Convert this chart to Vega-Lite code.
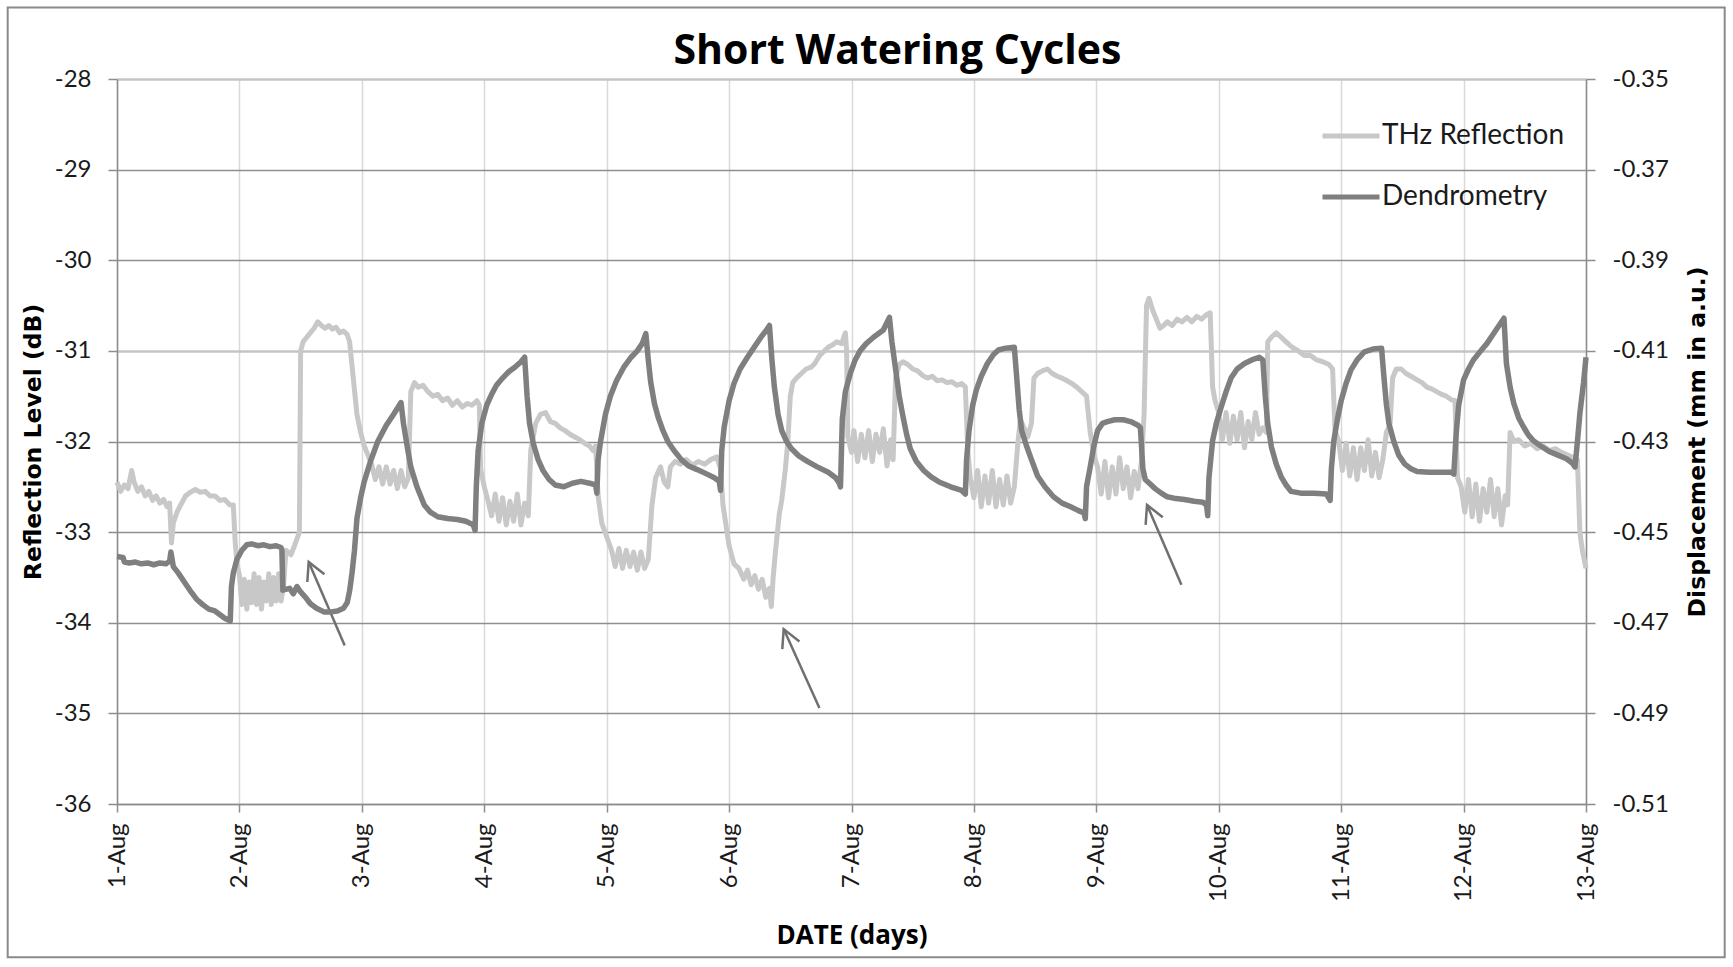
{
  "$schema": "https://vega.github.io/schema/vega-lite/v6.json",
  "width": 1469,
  "height": 725,
  "autosize": {"type": "none"},
  "padding": {"left": 117, "top": 79, "right": 147, "bottom": 163},
  "background": "white",
  "title": {
    "text": "Short Watering Cycles",
    "font": "Open Sans",
    "fontSize": 41,
    "fontWeight": "bold",
    "color": "#000000",
    "anchor": "middle",
    "frame": "group",
    "dx": 46,
    "offset": -67
  },
  "datasets": {
    "frame": [{"d": -0.893, "d2": 13.133, "v": -27.21, "v2": -37.69}],
    "arrows": [
      {"d": 1.86, "v": -34.25, "d2": 1.566, "v2": -33.33},
      {"d": 5.738, "v": -34.94, "d2": 5.446, "v2": -34.07},
      {"d": 8.695, "v": -33.58, "d2": 8.414, "v2": -32.7}
    ],
    "thz": [
      {"d": 0, "v": -32.45}, {"d": 0.03, "v": -32.55}, {"d": 0.06, "v": -32.48}, {"d": 0.09, "v": -32.52},
      {"d": 0.12, "v": -32.32}, {"d": 0.14, "v": -32.45}, {"d": 0.17, "v": -32.55}, {"d": 0.2, "v": -32.5},
      {"d": 0.23, "v": -32.6}, {"d": 0.26, "v": -32.55}, {"d": 0.29, "v": -32.65}, {"d": 0.32, "v": -32.6},
      {"d": 0.35, "v": -32.68}, {"d": 0.38, "v": -32.64}, {"d": 0.41, "v": -32.72}, {"d": 0.43, "v": -32.68},
      {"d": 0.445, "v": -33.12}, {"d": 0.46, "v": -32.9}, {"d": 0.49, "v": -32.78}, {"d": 0.52, "v": -32.7},
      {"d": 0.56, "v": -32.6}, {"d": 0.6, "v": -32.56}, {"d": 0.64, "v": -32.53}, {"d": 0.68, "v": -32.56},
      {"d": 0.72, "v": -32.55}, {"d": 0.76, "v": -32.6}, {"d": 0.8, "v": -32.6}, {"d": 0.84, "v": -32.65},
      {"d": 0.88, "v": -32.64}, {"d": 0.92, "v": -32.7}, {"d": 0.95, "v": -32.7}, {"d": 0.965, "v": -33.1},
      {"d": 0.98, "v": -33.35}, {"d": 1, "v": -33.48}, {"d": 1.02, "v": -33.8}, {"d": 1.04, "v": -33.52},
      {"d": 1.06, "v": -33.85}, {"d": 1.08, "v": -33.55}, {"d": 1.1, "v": -33.78}, {"d": 1.12, "v": -33.46},
      {"d": 1.14, "v": -33.8}, {"d": 1.16, "v": -33.5}, {"d": 1.18, "v": -33.85}, {"d": 1.2, "v": -33.55},
      {"d": 1.22, "v": -33.76}, {"d": 1.24, "v": -33.46}, {"d": 1.26, "v": -33.8}, {"d": 1.28, "v": -33.5},
      {"d": 1.3, "v": -33.76}, {"d": 1.32, "v": -33.46}, {"d": 1.34, "v": -33.76}, {"d": 1.36, "v": -33.6},
      {"d": 1.38, "v": -33.2}, {"d": 1.42, "v": -33.25}, {"d": 1.45, "v": -33.15}, {"d": 1.49, "v": -33.0},
      {"d": 1.5, "v": -31.0}, {"d": 1.52, "v": -30.9}, {"d": 1.55, "v": -30.85}, {"d": 1.58, "v": -30.8},
      {"d": 1.61, "v": -30.75}, {"d": 1.64, "v": -30.68}, {"d": 1.67, "v": -30.72}, {"d": 1.7, "v": -30.75},
      {"d": 1.73, "v": -30.72}, {"d": 1.76, "v": -30.76}, {"d": 1.79, "v": -30.74}, {"d": 1.82, "v": -30.8},
      {"d": 1.85, "v": -30.78}, {"d": 1.88, "v": -30.82}, {"d": 1.9, "v": -30.9}, {"d": 1.93, "v": -31.3},
      {"d": 1.96, "v": -31.7}, {"d": 1.99, "v": -31.9}, {"d": 2.02, "v": -32.05}, {"d": 2.05, "v": -32.15},
      {"d": 2.08, "v": -32.25}, {"d": 2.11, "v": -32.42}, {"d": 2.14, "v": -32.28}, {"d": 2.17, "v": -32.47},
      {"d": 2.2, "v": -32.28}, {"d": 2.23, "v": -32.47}, {"d": 2.26, "v": -32.32}, {"d": 2.29, "v": -32.52},
      {"d": 2.32, "v": -32.32}, {"d": 2.35, "v": -32.5}, {"d": 2.38, "v": -32.4}, {"d": 2.4, "v": -31.45},
      {"d": 2.43, "v": -31.35}, {"d": 2.46, "v": -31.4}, {"d": 2.5, "v": -31.38}, {"d": 2.54, "v": -31.45},
      {"d": 2.58, "v": -31.5}, {"d": 2.62, "v": -31.48}, {"d": 2.66, "v": -31.55}, {"d": 2.7, "v": -31.52},
      {"d": 2.74, "v": -31.6}, {"d": 2.78, "v": -31.55}, {"d": 2.82, "v": -31.62}, {"d": 2.86, "v": -31.58},
      {"d": 2.9, "v": -31.6}, {"d": 2.94, "v": -31.55}, {"d": 2.96, "v": -31.6}, {"d": 2.97, "v": -32.3},
      {"d": 3.0, "v": -32.5}, {"d": 3.03, "v": -32.65}, {"d": 3.06, "v": -32.82}, {"d": 3.09, "v": -32.58},
      {"d": 3.12, "v": -32.88}, {"d": 3.15, "v": -32.62}, {"d": 3.18, "v": -32.92}, {"d": 3.21, "v": -32.66},
      {"d": 3.24, "v": -32.88}, {"d": 3.27, "v": -32.58}, {"d": 3.3, "v": -32.92}, {"d": 3.33, "v": -32.68},
      {"d": 3.36, "v": -32.82}, {"d": 3.38, "v": -32.1}, {"d": 3.42, "v": -31.8}, {"d": 3.46, "v": -31.7},
      {"d": 3.5, "v": -31.68}, {"d": 3.54, "v": -31.78}, {"d": 3.58, "v": -31.8}, {"d": 3.62, "v": -31.85},
      {"d": 3.66, "v": -31.88}, {"d": 3.7, "v": -31.92}, {"d": 3.74, "v": -31.95}, {"d": 3.78, "v": -31.98},
      {"d": 3.82, "v": -32.02}, {"d": 3.86, "v": -32.05}, {"d": 3.89, "v": -32.1}, {"d": 3.91, "v": -32.05},
      {"d": 3.93, "v": -32.6}, {"d": 3.96, "v": -32.9}, {"d": 4.0, "v": -33.05}, {"d": 4.04, "v": -33.2},
      {"d": 4.07, "v": -33.38}, {"d": 4.1, "v": -33.18}, {"d": 4.13, "v": -33.4}, {"d": 4.16, "v": -33.2},
      {"d": 4.19, "v": -33.38}, {"d": 4.22, "v": -33.22}, {"d": 4.25, "v": -33.42}, {"d": 4.28, "v": -33.22},
      {"d": 4.31, "v": -33.4}, {"d": 4.34, "v": -33.3}, {"d": 4.37, "v": -32.7}, {"d": 4.4, "v": -32.4},
      {"d": 4.44, "v": -32.28}, {"d": 4.47, "v": -32.45}, {"d": 4.5, "v": -32.5}, {"d": 4.52, "v": -32.28},
      {"d": 4.56, "v": -32.22}, {"d": 4.6, "v": -32.25}, {"d": 4.65, "v": -32.2}, {"d": 4.7, "v": -32.26},
      {"d": 4.75, "v": -32.22}, {"d": 4.8, "v": -32.25}, {"d": 4.85, "v": -32.2}, {"d": 4.9, "v": -32.17},
      {"d": 4.93, "v": -32.3}, {"d": 4.95, "v": -32.7}, {"d": 5.0, "v": -33.15}, {"d": 5.04, "v": -33.35},
      {"d": 5.08, "v": -33.4}, {"d": 5.12, "v": -33.52}, {"d": 5.15, "v": -33.42}, {"d": 5.18, "v": -33.58},
      {"d": 5.21, "v": -33.48}, {"d": 5.24, "v": -33.63}, {"d": 5.27, "v": -33.52}, {"d": 5.3, "v": -33.72},
      {"d": 5.33, "v": -33.62}, {"d": 5.345, "v": -33.82}, {"d": 5.36, "v": -33.5}, {"d": 5.38, "v": -33.2},
      {"d": 5.41, "v": -32.8}, {"d": 5.43, "v": -32.65}, {"d": 5.46, "v": -32.3}, {"d": 5.48, "v": -32.0},
      {"d": 5.5, "v": -31.5}, {"d": 5.52, "v": -31.35}, {"d": 5.55, "v": -31.3}, {"d": 5.59, "v": -31.25},
      {"d": 5.63, "v": -31.2}, {"d": 5.67, "v": -31.18}, {"d": 5.7, "v": -31.14}, {"d": 5.74, "v": -31.05},
      {"d": 5.78, "v": -31.0}, {"d": 5.81, "v": -30.96}, {"d": 5.85, "v": -30.93}, {"d": 5.88, "v": -30.9},
      {"d": 5.92, "v": -30.92}, {"d": 5.95, "v": -30.8}, {"d": 5.96, "v": -31.0}, {"d": 5.97, "v": -31.95},
      {"d": 6.0, "v": -32.12}, {"d": 6.02, "v": -31.88}, {"d": 6.05, "v": -32.22}, {"d": 6.08, "v": -31.92},
      {"d": 6.11, "v": -32.18}, {"d": 6.14, "v": -31.88}, {"d": 6.17, "v": -32.22}, {"d": 6.2, "v": -31.92},
      {"d": 6.23, "v": -32.12}, {"d": 6.26, "v": -31.86}, {"d": 6.29, "v": -32.27}, {"d": 6.32, "v": -31.98},
      {"d": 6.34, "v": -32.2}, {"d": 6.36, "v": -31.3}, {"d": 6.39, "v": -31.15}, {"d": 6.42, "v": -31.12},
      {"d": 6.46, "v": -31.15}, {"d": 6.5, "v": -31.2}, {"d": 6.54, "v": -31.22}, {"d": 6.58, "v": -31.27},
      {"d": 6.62, "v": -31.3}, {"d": 6.66, "v": -31.28}, {"d": 6.7, "v": -31.33}, {"d": 6.74, "v": -31.32},
      {"d": 6.78, "v": -31.35}, {"d": 6.82, "v": -31.34}, {"d": 6.86, "v": -31.38}, {"d": 6.9, "v": -31.36},
      {"d": 6.93, "v": -31.4}, {"d": 6.95, "v": -32.1}, {"d": 6.97, "v": -32.4}, {"d": 7.0, "v": -32.62},
      {"d": 7.03, "v": -32.32}, {"d": 7.06, "v": -32.72}, {"d": 7.09, "v": -32.38}, {"d": 7.12, "v": -32.68},
      {"d": 7.15, "v": -32.32}, {"d": 7.18, "v": -32.72}, {"d": 7.21, "v": -32.42}, {"d": 7.24, "v": -32.7},
      {"d": 7.27, "v": -32.38}, {"d": 7.3, "v": -32.68}, {"d": 7.33, "v": -32.5}, {"d": 7.36, "v": -32.0},
      {"d": 7.38, "v": -31.76}, {"d": 7.41, "v": -31.85}, {"d": 7.44, "v": -31.95}, {"d": 7.47, "v": -31.8},
      {"d": 7.49, "v": -31.3}, {"d": 7.52, "v": -31.25}, {"d": 7.56, "v": -31.22}, {"d": 7.6, "v": -31.2},
      {"d": 7.64, "v": -31.25}, {"d": 7.68, "v": -31.28}, {"d": 7.72, "v": -31.3}, {"d": 7.76, "v": -31.33},
      {"d": 7.8, "v": -31.36}, {"d": 7.84, "v": -31.4}, {"d": 7.88, "v": -31.45}, {"d": 7.92, "v": -31.5},
      {"d": 7.95, "v": -31.9}, {"d": 7.98, "v": -32.15}, {"d": 8.01, "v": -32.28}, {"d": 8.04, "v": -32.58},
      {"d": 8.07, "v": -32.22}, {"d": 8.1, "v": -32.62}, {"d": 8.13, "v": -32.28}, {"d": 8.16, "v": -32.58},
      {"d": 8.19, "v": -32.18}, {"d": 8.22, "v": -32.52}, {"d": 8.25, "v": -32.28}, {"d": 8.28, "v": -32.62},
      {"d": 8.31, "v": -32.33}, {"d": 8.34, "v": -32.52}, {"d": 8.37, "v": -32.2}, {"d": 8.39, "v": -31.7},
      {"d": 8.41, "v": -30.5}, {"d": 8.43, "v": -30.42}, {"d": 8.46, "v": -30.55}, {"d": 8.49, "v": -30.65},
      {"d": 8.52, "v": -30.75}, {"d": 8.55, "v": -30.72}, {"d": 8.58, "v": -30.68}, {"d": 8.62, "v": -30.72},
      {"d": 8.66, "v": -30.65}, {"d": 8.7, "v": -30.68}, {"d": 8.74, "v": -30.63}, {"d": 8.78, "v": -30.68},
      {"d": 8.82, "v": -30.62}, {"d": 8.86, "v": -30.65}, {"d": 8.9, "v": -30.6}, {"d": 8.93, "v": -30.58},
      {"d": 8.95, "v": -31.4}, {"d": 8.97, "v": -31.55}, {"d": 9.0, "v": -31.68}, {"d": 9.03, "v": -31.98},
      {"d": 9.06, "v": -31.68}, {"d": 9.09, "v": -32.02}, {"d": 9.12, "v": -31.72}, {"d": 9.15, "v": -31.98},
      {"d": 9.18, "v": -31.68}, {"d": 9.21, "v": -32.07}, {"d": 9.24, "v": -31.78}, {"d": 9.27, "v": -31.98},
      {"d": 9.3, "v": -31.68}, {"d": 9.33, "v": -31.92}, {"d": 9.36, "v": -31.85}, {"d": 9.39, "v": -31.9},
      {"d": 9.4, "v": -30.9}, {"d": 9.43, "v": -30.85}, {"d": 9.47, "v": -30.8}, {"d": 9.51, "v": -30.85},
      {"d": 9.55, "v": -30.9}, {"d": 9.6, "v": -30.96}, {"d": 9.65, "v": -31.0}, {"d": 9.7, "v": -31.05},
      {"d": 9.75, "v": -31.05}, {"d": 9.8, "v": -31.1}, {"d": 9.85, "v": -31.12}, {"d": 9.9, "v": -31.15},
      {"d": 9.93, "v": -31.2}, {"d": 9.95, "v": -31.88}, {"d": 9.98, "v": -32.0}, {"d": 10.01, "v": -32.32},
      {"d": 10.04, "v": -32.02}, {"d": 10.07, "v": -32.38}, {"d": 10.1, "v": -32.07}, {"d": 10.13, "v": -32.42},
      {"d": 10.16, "v": -32.07}, {"d": 10.19, "v": -32.32}, {"d": 10.22, "v": -31.98}, {"d": 10.25, "v": -32.38},
      {"d": 10.28, "v": -32.12}, {"d": 10.31, "v": -32.4}, {"d": 10.34, "v": -32.2}, {"d": 10.37, "v": -31.9},
      {"d": 10.4, "v": -31.8}, {"d": 10.42, "v": -31.3}, {"d": 10.45, "v": -31.2}, {"d": 10.49, "v": -31.2},
      {"d": 10.53, "v": -31.25}, {"d": 10.57, "v": -31.28}, {"d": 10.62, "v": -31.32}, {"d": 10.66, "v": -31.35},
      {"d": 10.7, "v": -31.4}, {"d": 10.74, "v": -31.42}, {"d": 10.78, "v": -31.45}, {"d": 10.82, "v": -31.48},
      {"d": 10.86, "v": -31.5}, {"d": 10.9, "v": -31.54}, {"d": 10.93, "v": -31.55}, {"d": 10.95, "v": -32.4},
      {"d": 10.98, "v": -32.5}, {"d": 11.01, "v": -32.78}, {"d": 11.04, "v": -32.42}, {"d": 11.07, "v": -32.83},
      {"d": 11.1, "v": -32.47}, {"d": 11.13, "v": -32.88}, {"d": 11.16, "v": -32.52}, {"d": 11.19, "v": -32.78},
      {"d": 11.22, "v": -32.42}, {"d": 11.25, "v": -32.83}, {"d": 11.28, "v": -32.52}, {"d": 11.31, "v": -32.92},
      {"d": 11.34, "v": -32.6}, {"d": 11.36, "v": -32.7}, {"d": 11.38, "v": -31.9}, {"d": 11.41, "v": -32.0},
      {"d": 11.45, "v": -31.98}, {"d": 11.5, "v": -32.05}, {"d": 11.55, "v": -32.02}, {"d": 11.6, "v": -32.08},
      {"d": 11.65, "v": -32.05}, {"d": 11.7, "v": -32.1}, {"d": 11.75, "v": -32.08}, {"d": 11.8, "v": -32.12},
      {"d": 11.85, "v": -32.15}, {"d": 11.9, "v": -32.18}, {"d": 11.93, "v": -32.2}, {"d": 11.95, "v": -33.0},
      {"d": 11.97, "v": -33.2}, {"d": 12.0, "v": -33.4}
    ],
    "dendro": [
      {"d": 0, "v": -0.4554}, {"d": 0.05, "v": -0.4556}, {"d": 0.06, "v": -0.4566}, {"d": 0.1, "v": -0.4568},
      {"d": 0.15, "v": -0.4566}, {"d": 0.2, "v": -0.457}, {"d": 0.25, "v": -0.4568}, {"d": 0.3, "v": -0.4572},
      {"d": 0.35, "v": -0.4568}, {"d": 0.4, "v": -0.457}, {"d": 0.43, "v": -0.4564}, {"d": 0.44, "v": -0.4544},
      {"d": 0.46, "v": -0.4576}, {"d": 0.5, "v": -0.459}, {"d": 0.55, "v": -0.461}, {"d": 0.6, "v": -0.463},
      {"d": 0.65, "v": -0.4648}, {"d": 0.7, "v": -0.466}, {"d": 0.75, "v": -0.467}, {"d": 0.8, "v": -0.4674},
      {"d": 0.85, "v": -0.4684}, {"d": 0.88, "v": -0.469}, {"d": 0.91, "v": -0.4694}, {"d": 0.925, "v": -0.4696},
      {"d": 0.935, "v": -0.462}, {"d": 0.95, "v": -0.459}, {"d": 0.98, "v": -0.456}, {"d": 1.02, "v": -0.454},
      {"d": 1.06, "v": -0.4528}, {"d": 1.1, "v": -0.4526}, {"d": 1.15, "v": -0.453}, {"d": 1.2, "v": -0.4528},
      {"d": 1.25, "v": -0.4532}, {"d": 1.3, "v": -0.453}, {"d": 1.34, "v": -0.4534}, {"d": 1.347, "v": -0.454},
      {"d": 1.355, "v": -0.4628}, {"d": 1.41, "v": -0.4624}, {"d": 1.44, "v": -0.4636}, {"d": 1.47, "v": -0.462},
      {"d": 1.5, "v": -0.4632}, {"d": 1.54, "v": -0.4644}, {"d": 1.58, "v": -0.4658}, {"d": 1.63, "v": -0.4668},
      {"d": 1.69, "v": -0.4676}, {"d": 1.75, "v": -0.4676}, {"d": 1.8, "v": -0.4674}, {"d": 1.85, "v": -0.4668},
      {"d": 1.88, "v": -0.4656}, {"d": 1.9, "v": -0.463}, {"d": 1.92, "v": -0.459}, {"d": 1.94, "v": -0.454},
      {"d": 1.96, "v": -0.447}, {"d": 1.99, "v": -0.4424}, {"d": 2.02, "v": -0.4388}, {"d": 2.07, "v": -0.4344},
      {"d": 2.13, "v": -0.43}, {"d": 2.2, "v": -0.4264}, {"d": 2.26, "v": -0.424}, {"d": 2.32, "v": -0.4214},
      {"d": 2.34, "v": -0.426}, {"d": 2.37, "v": -0.431}, {"d": 2.4, "v": -0.4356}, {"d": 2.45, "v": -0.44},
      {"d": 2.51, "v": -0.444}, {"d": 2.56, "v": -0.4456}, {"d": 2.62, "v": -0.4466}, {"d": 2.7, "v": -0.447},
      {"d": 2.78, "v": -0.4472}, {"d": 2.85, "v": -0.4476}, {"d": 2.91, "v": -0.4484}, {"d": 2.925, "v": -0.4496},
      {"d": 2.935, "v": -0.44}, {"d": 2.95, "v": -0.432}, {"d": 2.98, "v": -0.426}, {"d": 3.02, "v": -0.422},
      {"d": 3.06, "v": -0.4196}, {"d": 3.1, "v": -0.4176}, {"d": 3.15, "v": -0.416}, {"d": 3.2, "v": -0.4146},
      {"d": 3.25, "v": -0.4136}, {"d": 3.3, "v": -0.4124}, {"d": 3.33, "v": -0.4114}, {"d": 3.35, "v": -0.42},
      {"d": 3.37, "v": -0.426}, {"d": 3.4, "v": -0.4304}, {"d": 3.44, "v": -0.434}, {"d": 3.48, "v": -0.4364},
      {"d": 3.53, "v": -0.4384}, {"d": 3.58, "v": -0.4396}, {"d": 3.65, "v": -0.44}, {"d": 3.72, "v": -0.4392},
      {"d": 3.79, "v": -0.4388}, {"d": 3.86, "v": -0.4392}, {"d": 3.91, "v": -0.4396}, {"d": 3.92, "v": -0.4414},
      {"d": 3.93, "v": -0.434}, {"d": 3.95, "v": -0.43}, {"d": 3.99, "v": -0.424}, {"d": 4.03, "v": -0.42},
      {"d": 4.08, "v": -0.4166}, {"d": 4.14, "v": -0.4136}, {"d": 4.2, "v": -0.4114}, {"d": 4.25, "v": -0.41},
      {"d": 4.29, "v": -0.4084}, {"d": 4.32, "v": -0.4062}, {"d": 4.34, "v": -0.412}, {"d": 4.36, "v": -0.417},
      {"d": 4.39, "v": -0.4216}, {"d": 4.42, "v": -0.4246}, {"d": 4.46, "v": -0.4276}, {"d": 4.5, "v": -0.43},
      {"d": 4.55, "v": -0.432}, {"d": 4.61, "v": -0.434}, {"d": 4.67, "v": -0.4354}, {"d": 4.74, "v": -0.4362},
      {"d": 4.82, "v": -0.4372}, {"d": 4.88, "v": -0.438}, {"d": 4.92, "v": -0.4388}, {"d": 4.93, "v": -0.4408},
      {"d": 4.94, "v": -0.432}, {"d": 4.96, "v": -0.4268}, {"d": 5.0, "v": -0.421}, {"d": 5.04, "v": -0.4172},
      {"d": 5.09, "v": -0.414}, {"d": 5.15, "v": -0.4114}, {"d": 5.2, "v": -0.4094}, {"d": 5.26, "v": -0.407},
      {"d": 5.3, "v": -0.4056}, {"d": 5.33, "v": -0.4044}, {"d": 5.35, "v": -0.412}, {"d": 5.37, "v": -0.418},
      {"d": 5.4, "v": -0.424}, {"d": 5.43, "v": -0.4276}, {"d": 5.47, "v": -0.43}, {"d": 5.51, "v": -0.4316},
      {"d": 5.57, "v": -0.4332}, {"d": 5.64, "v": -0.4344}, {"d": 5.72, "v": -0.4356}, {"d": 5.81, "v": -0.4368},
      {"d": 5.87, "v": -0.438}, {"d": 5.9, "v": -0.4392}, {"d": 5.91, "v": -0.44}, {"d": 5.925, "v": -0.425},
      {"d": 5.95, "v": -0.419}, {"d": 5.99, "v": -0.415}, {"d": 6.03, "v": -0.412}, {"d": 6.07, "v": -0.41},
      {"d": 6.12, "v": -0.4084}, {"d": 6.18, "v": -0.407}, {"d": 6.26, "v": -0.4054}, {"d": 6.31, "v": -0.4026},
      {"d": 6.33, "v": -0.408}, {"d": 6.36, "v": -0.414}, {"d": 6.39, "v": -0.42}, {"d": 6.42, "v": -0.4244},
      {"d": 6.45, "v": -0.4284}, {"d": 6.48, "v": -0.4316}, {"d": 6.53, "v": -0.4344}, {"d": 6.59, "v": -0.4364},
      {"d": 6.65, "v": -0.4378}, {"d": 6.72, "v": -0.439}, {"d": 6.81, "v": -0.44}, {"d": 6.9, "v": -0.4408},
      {"d": 6.93, "v": -0.4416}, {"d": 6.94, "v": -0.434}, {"d": 6.96, "v": -0.4276}, {"d": 6.99, "v": -0.422},
      {"d": 7.02, "v": -0.4186}, {"d": 7.06, "v": -0.4156}, {"d": 7.11, "v": -0.4128}, {"d": 7.16, "v": -0.4108},
      {"d": 7.2, "v": -0.4098}, {"d": 7.26, "v": -0.4094}, {"d": 7.33, "v": -0.4092}, {"d": 7.35, "v": -0.416},
      {"d": 7.37, "v": -0.423}, {"d": 7.39, "v": -0.4276}, {"d": 7.43, "v": -0.431}, {"d": 7.47, "v": -0.434},
      {"d": 7.52, "v": -0.4376}, {"d": 7.58, "v": -0.44}, {"d": 7.65, "v": -0.4422}, {"d": 7.72, "v": -0.4436},
      {"d": 7.79, "v": -0.4444}, {"d": 7.85, "v": -0.4452}, {"d": 7.9, "v": -0.4458}, {"d": 7.91, "v": -0.447},
      {"d": 7.92, "v": -0.44}, {"d": 7.95, "v": -0.4356}, {"d": 7.98, "v": -0.431}, {"d": 8.01, "v": -0.4276},
      {"d": 8.05, "v": -0.426}, {"d": 8.09, "v": -0.4256}, {"d": 8.15, "v": -0.4252}, {"d": 8.22, "v": -0.4252},
      {"d": 8.28, "v": -0.4256}, {"d": 8.34, "v": -0.4264}, {"d": 8.36, "v": -0.427}, {"d": 8.38, "v": -0.436},
      {"d": 8.4, "v": -0.4384}, {"d": 8.44, "v": -0.4394}, {"d": 8.48, "v": -0.4404}, {"d": 8.53, "v": -0.4414},
      {"d": 8.58, "v": -0.4422}, {"d": 8.65, "v": -0.4426}, {"d": 8.72, "v": -0.4428}, {"d": 8.8, "v": -0.4432},
      {"d": 8.87, "v": -0.4434}, {"d": 8.9, "v": -0.444}, {"d": 8.91, "v": -0.4464}, {"d": 8.92, "v": -0.438},
      {"d": 8.95, "v": -0.4298}, {"d": 8.98, "v": -0.426}, {"d": 9.02, "v": -0.4224}, {"d": 9.06, "v": -0.419},
      {"d": 9.1, "v": -0.416}, {"d": 9.15, "v": -0.414}, {"d": 9.21, "v": -0.4128}, {"d": 9.27, "v": -0.412},
      {"d": 9.33, "v": -0.4114}, {"d": 9.36, "v": -0.412}, {"d": 9.38, "v": -0.42}, {"d": 9.4, "v": -0.426},
      {"d": 9.43, "v": -0.4312}, {"d": 9.47, "v": -0.435}, {"d": 9.51, "v": -0.4378}, {"d": 9.55, "v": -0.4396},
      {"d": 9.59, "v": -0.441}, {"d": 9.67, "v": -0.4414}, {"d": 9.78, "v": -0.4414}, {"d": 9.88, "v": -0.4416},
      {"d": 9.91, "v": -0.443}, {"d": 9.92, "v": -0.436}, {"d": 9.94, "v": -0.4298}, {"d": 9.97, "v": -0.425},
      {"d": 10.0, "v": -0.421}, {"d": 10.04, "v": -0.4172}, {"d": 10.08, "v": -0.4142}, {"d": 10.13, "v": -0.412},
      {"d": 10.19, "v": -0.4102}, {"d": 10.26, "v": -0.4096}, {"d": 10.33, "v": -0.4094}, {"d": 10.35, "v": -0.416},
      {"d": 10.37, "v": -0.422}, {"d": 10.39, "v": -0.426}, {"d": 10.43, "v": -0.43}, {"d": 10.47, "v": -0.433},
      {"d": 10.52, "v": -0.435}, {"d": 10.57, "v": -0.436}, {"d": 10.62, "v": -0.4366}, {"d": 10.72, "v": -0.4368},
      {"d": 10.82, "v": -0.4368}, {"d": 10.9, "v": -0.4368}, {"d": 10.92, "v": -0.4372}, {"d": 10.94, "v": -0.428},
      {"d": 10.96, "v": -0.422}, {"d": 11.0, "v": -0.4164}, {"d": 11.04, "v": -0.414}, {"d": 11.08, "v": -0.412},
      {"d": 11.14, "v": -0.41}, {"d": 11.19, "v": -0.4084}, {"d": 11.24, "v": -0.4064}, {"d": 11.28, "v": -0.4048},
      {"d": 11.33, "v": -0.4028}, {"d": 11.35, "v": -0.4128}, {"d": 11.38, "v": -0.418}, {"d": 11.41, "v": -0.4216},
      {"d": 11.45, "v": -0.4248}, {"d": 11.49, "v": -0.4268}, {"d": 11.53, "v": -0.4286}, {"d": 11.57, "v": -0.4298},
      {"d": 11.63, "v": -0.431}, {"d": 11.7, "v": -0.4322}, {"d": 11.77, "v": -0.433}, {"d": 11.84, "v": -0.4338},
      {"d": 11.89, "v": -0.4348}, {"d": 11.91, "v": -0.4356}, {"d": 11.93, "v": -0.43}, {"d": 11.95, "v": -0.4238},
      {"d": 11.98, "v": -0.417}, {"d": 12.0, "v": -0.4114}
    ]
  },
  "layer": [
    {
      "layer": [
        {
          "data": {"name": "thz"},
          "mark": {"type": "line", "strokeWidth": 5, "strokeJoin": "round"},
          "encoding": {
            "x": {
              "field": "d",
              "type": "quantitative",
              "scale": {"domain": [0, 12], "nice": false, "zero": false},
              "axis": {
                "title": "DATE (days)",
                "values": [0, 1, 2, 3, 4, 5, 6, 7, 8, 9, 10, 11, 12],
                "labelExpr": "(datum.value + 1) + '-Aug'",
                "labelAngle": 270,
                "labelPadding": 11,
                "tickSize": 8,
                "labelOverlap": false,
                "labelFlush": false,
                "grid": true,
                "gridColor": "#d9d9d9",
                "gridWidth": 1.5,
                "titleFont": "Open Sans",
                "titleFontWeight": "bold",
                "titleFontSize": 26,
                "titleColor": "#000000",
                "titlePadding": 21
              }
            },
            "y": {
              "field": "v",
              "type": "quantitative",
              "scale": {"domain": [-36, -28], "nice": false, "zero": false},
              "axis": {
                "title": "Reflection Level (dB)",
                "values": [-36, -35, -34, -33, -32, -31, -30, -29, -28],
                "labelExpr": "'' + datum.value",
                "tickSize": 9,
                "labelPadding": 17,
                "grid": true,
                "gridColor": {"condition": {"test": "datum.value === -28 || datum.value === -31", "value": "#c4c4c4"}, "value": "#8f8f8f"},
                "gridWidth": {"condition": {"test": "datum.value === -28 || datum.value === -31", "value": 2.5}, "value": 1.5},
                "titleFont": "DejaVu Sans",
                "titleFontWeight": "bold",
                "titleFontSize": 23.5,
                "titleColor": "#000000",
                "titlePadding": 9
              }
            },
            "color": {
              "datum": "THz Reflection",
              "scale": {"domain": ["THz Reflection", "Dendrometry"], "range": ["#c8c8c8", "#7f7f7f"]},
              "legend": {
                "orient": "none",
                "legendX": 1203,
                "legendY": 26,
                "title": null,
                "symbolType": "stroke",
                "symbolSize": 3249,
                "symbolStrokeWidth": 5,
                "labelFont": "Lato",
                "labelFontSize": 28,
                "labelColor": "#1a1a1a",
                "labelOffset": 0,
                "labelLimit": 400,
                "rowPadding": 16,
                "padding": 0
              }
            }
          }
        },
        {
          "data": {"name": "arrows"},
          "mark": {"type": "rule", "color": "#707070", "strokeWidth": 2.5},
          "encoding": {
            "x": {"field": "d", "type": "quantitative", "scale": {"domain": [0, 12], "nice": false, "zero": false}},
            "x2": {"field": "d2"},
            "y": {"field": "v", "type": "quantitative", "scale": {"domain": [-36, -28], "nice": false, "zero": false}},
            "y2": {"field": "v2"}
          }
        },
        {
          "data": {"name": "arrows"},
          "mark": {"type": "point", "shape": "M-0.469,0.883L0,0L0.469,0.883", "filled": false, "size": 1600, "angle": -24, "color": "#707070", "strokeWidth": 2.5, "opacity": 1},
          "encoding": {
            "x": {"field": "d2", "type": "quantitative", "scale": {"domain": [0, 12], "nice": false, "zero": false}},
            "y": {"field": "v2", "type": "quantitative", "scale": {"domain": [-36, -28], "nice": false, "zero": false}}
          }
        },
        {
          "data": {"name": "frame"},
          "mark": {"type": "rect", "fill": null, "stroke": "#8a8a8a", "strokeWidth": 2},
          "encoding": {
            "x": {"field": "d", "type": "quantitative", "scale": {"domain": [0, 12], "nice": false, "zero": false}},
            "x2": {"field": "d2"},
            "y": {"field": "v", "type": "quantitative", "scale": {"domain": [-36, -28], "nice": false, "zero": false}},
            "y2": {"field": "v2"}
          }
        }
      ]
    },
    {
      "data": {"name": "dendro"},
      "mark": {"type": "line", "strokeWidth": 5.5, "strokeJoin": "round"},
      "encoding": {
        "x": {"field": "d", "type": "quantitative", "scale": {"domain": [0, 12], "nice": false, "zero": false}},
        "y": {
          "field": "v",
          "type": "quantitative",
          "scale": {"domain": [-0.51, -0.35], "nice": false, "zero": false},
          "axis": {
            "orient": "right",
            "title": "Displacement (mm in a.u.)",
            "values": [-0.51, -0.49, -0.47, -0.45, -0.43, -0.41, -0.39, -0.37, -0.35],
            "labelExpr": "replace(format(datum.value, '.2f'), '\u2212', '-')",
            "tickSize": 9,
            "labelPadding": 17,
            "grid": false,
            "titleAngle": 270,
            "titleBaseline": "top",
            "titleFont": "DejaVu Sans",
            "titleFontWeight": "bold",
            "titleFontSize": 23.5,
            "titleColor": "#000000",
            "titlePadding": 17
          }
        },
        "color": {"datum": "Dendrometry"}
      }
    }
  ],
  "resolve": {"scale": {"y": "independent"}},
  "config": {
    "view": {"stroke": null},
    "axis": {
      "labelFont": "Lato",
      "labelFontSize": 24,
      "labelColor": "#1a1a1a",
      "domainColor": "#8c8c8c",
      "domainWidth": 1.5,
      "tickColor": "#8c8c8c",
      "tickWidth": 1.5
    }
  }
}
